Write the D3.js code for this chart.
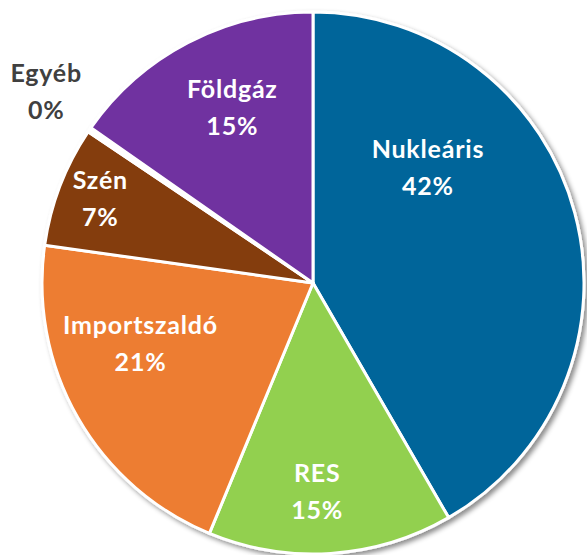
<!DOCTYPE html>
<html>
<head>
<meta charset="utf-8">
<script src="https://cdn.jsdelivr.net/npm/d3@7"></script>
<style>
  html, body { margin: 0; padding: 0; background: #fff; }
  svg { display: block; }
</style>
</head>
<body>
<div id="chart"></div>
<script>
// ---- data ----
const categories = ["Nukleáris", "RES", "Importszaldó", "Szén", "Egyéb", "Földgáz"];
const values = [41.7, 14.6, 21.0, 7.2, 0.3, 15.3];
const percentLabels = ["42%", "15%", "21%", "7%", "0%", "15%"];
const colors = ["#00659a", "#92d050", "#ed7d31", "#843c0c", "#ffffff", "#7030a0"];

// label placement (polar: degrees clockwise from 12 o'clock, fraction of radius)
const labelAngle = [47, 179, 248, 289.5, 304.4, 334];
const labelRadius = [0.578, 0.803, 0.688, 0.834, 1.195, 0.683];
const labelColor = ["#fff", "#fff", "#fff", "#fff", "#404040", "#fff"];

const W = 587, H = 555;
const cx = 313, cy = 283, R = 271;

const svg = d3.select("#chart").append("svg")
  .attr("width", W).attr("height", H);

const defs = svg.append("defs");
const f = defs.append("filter").attr("id", "shadow")
  .attr("x", "-10%").attr("y", "-10%").attr("width", "120%").attr("height", "120%");
f.append("feDropShadow").attr("dx", 3).attr("dy", 3).attr("stdDeviation", 2.5)
  .attr("flood-color", "#000").attr("flood-opacity", 0.45);

const data = categories.map((c, i) => ({ name: c, value: values[i], label: percentLabels[i], i }));

const pie = d3.pie().sort(null).value(d => d.value).startAngle(0).endAngle(2 * Math.PI);
const arc = d3.arc().innerRadius(0).outerRadius(R);

const g = svg.append("g").attr("transform", `translate(${cx},${cy})`);

g.append("g").attr("filter", "url(#shadow)")
  .selectAll("path").data(pie(data)).join("path")
  .attr("d", arc)
  .attr("fill", d => colors[d.data.i])
  .attr("stroke", "#fff")
  .attr("stroke-width", 3)
  .attr("stroke-linejoin", "round");

const labels = g.append("g")
  .attr("font-family", "Lato, Carlito, 'Open Sans', sans-serif")
  .attr("font-weight", "bold")
  .attr("font-size", 25)
  .attr("letter-spacing", "0.8px")
  .attr("text-anchor", "middle");

data.forEach((d, i) => {
  const a = labelAngle[i] * Math.PI / 180;
  const rr = labelRadius[i] * R;
  const x = rr * Math.sin(a) + 0.4, y = -rr * Math.cos(a);
  const t = labels.append("text").attr("fill", labelColor[i]);
  t.append("tspan").attr("x", x).attr("y", y - 18.5).text(d.name);
  t.append("tspan").attr("x", x).attr("y", y + 18.5).text(d.label);
});
</script>
</body>
</html>
